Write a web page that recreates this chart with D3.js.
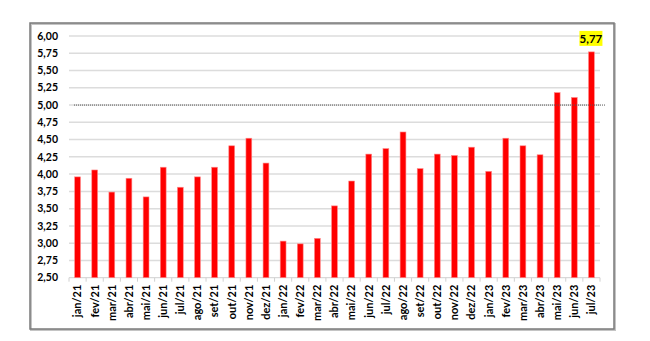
<!DOCTYPE html>
<html>
<head>
<meta charset="utf-8">
<script src="https://cdn.jsdelivr.net/npm/d3@7"></script>
<style>
  body { margin: 0; background: #fff; }
  text { font-family: Lato, "Open Sans", sans-serif; font-weight: bold; }
</style>
</head>
<body>
<div id="chart"></div>
<script>
var months = ["jan/21","fev/21","mar/21","abr/21","mai/21","jun/21","jul/21","ago/21","set/21","out/21","nov/21","dez/21",
	"jan/22","fev/22","mar/22","abr/22","mai/22","jun/22","jul/22","ago/22","set/22","out/22","nov/22","dez/22",
	"jan/23","fev/23","mar/23","abr/23","mai/23","jun/23","jul/23"];
var values = [3.96,4.06,3.74,3.94,3.67,4.10,3.81,3.96,4.10,4.41,4.52,4.16,
	3.03,2.99,3.07,3.54,3.90,4.29,4.37,4.61,4.08,4.29,4.27,4.39,
	4.04,4.52,4.41,4.28,5.18,5.11,5.77];
var yTicks = [2.5,2.75,3,3.25,3.5,3.75,4,4.25,4.5,4.75,5,5.25,5.5,5.75,6];
var refLine = 5.00;

var fmt = function(v) { return d3.format(".2f")(v).replace(".", ","); };

var svg = d3.select("#chart").append("svg")
	.attr("width", 650)
	.attr("height", 341);

// outer frame (with a soft shadow on the right / bottom)
svg.append("rect")
	.attr("x", 31).attr("y", 24)
	.attr("width", 584).attr("height", 306)
	.attr("fill", "none")
	.attr("stroke", "#c4c4c4")
	.attr("stroke-width", 2);
svg.append("rect")
	.attr("x", 30).attr("y", 23)
	.attr("width", 584).attr("height", 306)
	.attr("fill", "none")
	.attr("stroke", "#7a7a7a")
	.attr("stroke-width", 1.5);

var margin = {top: 36, left: 69},
	width = 531,
	height = 241.7;

var g = svg.append("g")
	.attr("transform", "translate(" + margin.left + "," + margin.top + ")");

var x = d3.scaleBand()
	.domain(months)
	.range([0, width])
	.paddingInner(0.66)
	.paddingOuter(0.33);

var xTicks = d3.scaleBand().domain(months).range([0, width]);

var y = d3.scaleLinear()
	.domain([2.5, 6])
	.range([height, 0]);

// gridlines
g.selectAll(".grid")
	.data(yTicks.slice(1))
	.enter().append("line")
	.attr("x1", 0).attr("x2", width)
	.attr("y1", function(d) { return y(d); })
	.attr("y2", function(d) { return y(d); })
	.attr("stroke", "#dcdcdc")
	.attr("stroke-width", 1.5);

// y axis labels
g.selectAll(".ylab")
	.data(yTicks)
	.enter().append("text")
	.attr("x", -11)
	.attr("y", function(d) { return y(d); })
	.attr("dy", "0.35em")
	.attr("text-anchor", "end")
	.style("font-size", "10.5px")
	.attr("fill", "#000")
	.text(fmt);

// x axis line and ticks
g.append("line")
	.attr("x1", 0).attr("x2", width)
	.attr("y1", height).attr("y2", height)
	.attr("stroke", "#d0d0d0")
	.attr("stroke-width", 1);

g.selectAll(".xtick")
	.data(months.concat(["end"]))
	.enter().append("line")
	.attr("x1", function(d, i) { return i * xTicks.step(); })
	.attr("x2", function(d, i) { return i * xTicks.step(); })
	.attr("y1", height).attr("y2", height + 4)
	.attr("stroke", "#d0d0d0");

// bars
g.selectAll(".bar")
	.data(values)
	.enter().append("rect")
	.attr("x", function(d, i) { return x(months[i]); })
	.attr("width", x.bandwidth())
	.attr("y", function(d) { return y(d); })
	.attr("height", function(d) { return height - y(d); })
	.attr("fill", "#ff0000")
	.attr("stroke", "#ff8a8a")
	.attr("stroke-width", 0.6);

// reference line at 5,00
g.append("line")
	.attr("x1", 5).attr("x2", width + 6)
	.attr("y1", y(refLine)).attr("y2", y(refLine))
	.attr("stroke", "#555")
	.attr("stroke-width", 1)
	.attr("stroke-dasharray", "1,1");

// x labels
g.selectAll(".xlab")
	.data(months)
	.enter().append("text")
	.attr("transform", function(d) {
		return "translate(" + (x(d) + x.bandwidth() / 2) + "," + (height + 7) + ")rotate(-90)";
	})
	.attr("dy", "0.35em")
	.attr("text-anchor", "end")
	.style("font-size", "11px")
	.attr("fill", "#000")
	.text(function(d) { return d; });

// last value label
var last = values.length - 1;
var lx = x(months[last]) + x.bandwidth() / 2,
	ly = y(values[last]) - 13;
g.append("rect")
	.attr("x", lx - 12).attr("y", ly - 8)
	.attr("width", 23).attr("height", 15)
	.attr("fill", "#ffff00");
g.append("text")
	.attr("x", lx - 0.5).attr("y", ly)
	.attr("dy", "0.35em")
	.attr("text-anchor", "middle")
	.style("font-size", "11.5px")
	.attr("fill", "#000")
	.text(fmt(values[last]));
</script>
</body>
</html>
